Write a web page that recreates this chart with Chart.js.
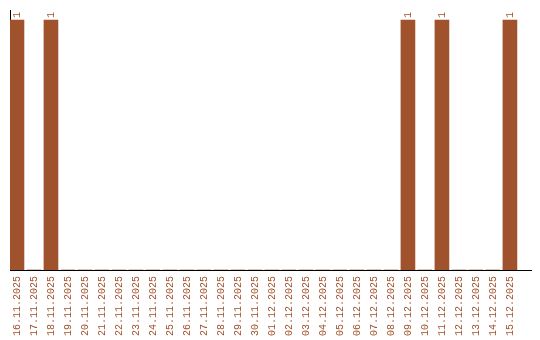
<!DOCTYPE html>
<html>
<head>
<meta charset="utf-8">
<script src="https://cdn.jsdelivr.net/npm/chart.js@4/dist/chart.umd.min.js"></script>
<style>
  html, body { margin: 0; padding: 0; background: #ffffff; }
  #wrap { width: 540px; height: 340px; }
</style>
</head>
<body>
<div id="wrap"><canvas id="c" width="540" height="340"></canvas></div>
<script>
const categories = [
  "16.11.2025","17.11.2025","18.11.2025","19.11.2025","20.11.2025","21.11.2025",
  "22.11.2025","23.11.2025","24.11.2025","25.11.2025","26.11.2025","27.11.2025",
  "28.11.2025","29.11.2025","30.11.2025","01.12.2025","02.12.2025","03.12.2025",
  "04.12.2025","05.12.2025","06.12.2025","07.12.2025","08.12.2025","09.12.2025",
  "10.12.2025","11.12.2025","12.12.2025","13.12.2025","14.12.2025","15.12.2025"
];
const counts = [
  1,0,1,0,0,0,
  0,0,0,0,0,0,
  0,0,0,0,0,0,
  0,0,0,0,0,1,
  0,1,0,0,0,1
];

const BROWN = '#A0522D';
const FONT = '"Liberation Mono", "Courier New", monospace';

const valueLabels = {
  id: 'valueLabels',
  afterDatasetsDraw(chart) {
    const ctx = chart.ctx;
    const meta = chart.getDatasetMeta(0);
    ctx.save();
    ctx.fillStyle = BROWN;
    ctx.font = '10px ' + FONT;
    ctx.textAlign = 'left';
    ctx.textBaseline = 'middle';
    meta.data.forEach((bar, i) => {
      const v = counts[i];
      if (!v) return;
      ctx.save();
      ctx.translate(bar.x, bar.y - 2);
      ctx.rotate(-Math.PI / 2);
      ctx.fillText(String(v), 0, 0);
      ctx.restore();
    });
    ctx.restore();
  }
};

new Chart(document.getElementById('c'), {
  type: 'bar',
  data: {
    datasets: [{
      data: counts.map((v, i) => ({ x: i, y: v })),
      backgroundColor: BROWN,
      borderWidth: 0,
      barThickness: 14
    }]
  },
  options: {
    responsive: false,
    animation: false,
    layout: { padding: { left: 10, right: 9, top: 10, bottom: 0 } },
    plugins: { legend: { display: false }, tooltip: { enabled: false } },
    scales: {
      x: {
        type: 'linear',
        offset: false,
        min: -0.41,
        max: 30.24,
        grid: { display: false, drawTicks: false },
        border: { display: true, color: '#000000', width: 1 },
        afterBuildTicks(axis) {
          axis.ticks = categories.map((_, i) => ({ value: i }));
        },
        afterFit(axis) { axis.height = 70; },
        ticks: {
          autoSkip: false,
          minRotation: 90,
          maxRotation: 90,
          padding: 6,
          color: BROWN,
          font: { family: FONT, size: 10 },
          callback: (val) => categories[val] ?? ''
        }
      },
      y: {
        min: 0,
        max: 1.04,
        grid: { display: false, drawTicks: false },
        border: { display: true, color: '#000000', width: 1 },
        afterFit(axis) { axis.width = 0; },
        ticks: { display: false }
      }
    }
  },
  plugins: [valueLabels]
});
</script>
</body>
</html>
